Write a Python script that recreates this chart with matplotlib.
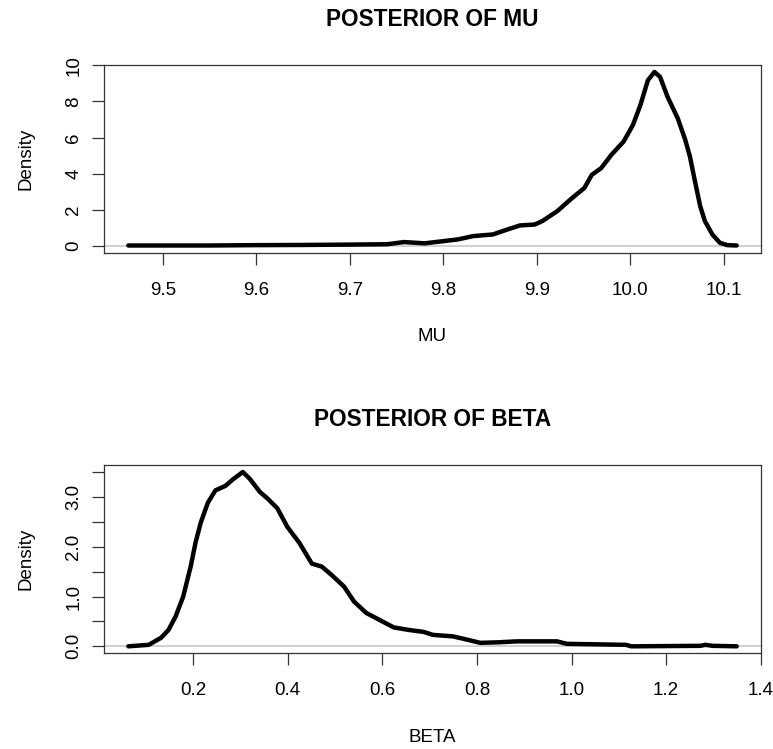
import matplotlib
matplotlib.use("Agg")
import matplotlib.pyplot as plt

plt.rcParams['font.family'] = ['Liberation Sans', 'DejaVu Sans']

# Posterior of MU (density curve points)
mu_x = [9.463, 9.55, 9.60, 9.65, 9.70, 9.74, 9.758, 9.78, 9.80, 9.816, 9.832, 9.853,
        9.869, 9.882, 9.898, 9.906, 9.922, 9.938, 9.951, 9.959, 9.969, 9.980,
        9.993, 10.003, 10.011, 10.019, 10.026, 10.032, 10.040, 10.051, 10.059,
        10.064, 10.069, 10.075, 10.080, 10.088, 10.096, 10.104, 10.114]
mu_y = [0.03, 0.03, 0.05, 0.06, 0.08, 0.10, 0.22, 0.15, 0.27, 0.37, 0.55, 0.64,
        0.92, 1.14, 1.19, 1.38, 1.93, 2.66, 3.21, 3.94, 4.31, 5.05,
        5.78, 6.70, 7.80, 9.17, 9.63, 9.36, 8.26, 7.06, 5.87,
        4.95, 3.67, 2.20, 1.38, 0.64, 0.18, 0.05, 0.03]

# Posterior of BETA
beta_x = [0.063, 0.106, 0.132, 0.148, 0.163, 0.179, 0.195, 0.205, 0.216, 0.231,
          0.247, 0.268, 0.284, 0.305, 0.320, 0.341, 0.357, 0.378, 0.399, 0.425,
          0.451, 0.472, 0.493, 0.519, 0.540, 0.566, 0.592, 0.624, 0.655, 0.687,
          0.707, 0.749, 0.781, 0.807, 0.843, 0.885, 0.969, 0.990, 1.115, 1.126,
          1.272, 1.283, 1.298, 1.349]
beta_y = [0.0, 0.03, 0.17, 0.33, 0.60, 1.00, 1.61, 2.08, 2.48, 2.88,
          3.13, 3.22, 3.35, 3.50, 3.36, 3.10, 2.97, 2.77, 2.40, 2.07,
          1.66, 1.60, 1.43, 1.20, 0.90, 0.67, 0.54, 0.38, 0.33, 0.29,
          0.23, 0.20, 0.13, 0.07, 0.08, 0.10, 0.10, 0.05, 0.03, 0.0,
          0.01, 0.03, 0.01, 0.0]

mu_xticks = [9.5, 9.6, 9.7, 9.8, 9.9, 10.0, 10.1]
mu_xticklabels = ['9.5', '9.6', '9.7', '9.8', '9.9', '10.0', '10.1']
mu_yticks = [0, 2, 4, 6, 8, 10]
mu_yticklabels = ['0', '2', '4', '6', '8', '10']
beta_xticks = [0.2, 0.4, 0.6, 0.8, 1.0, 1.2, 1.4]
beta_xticklabels = ['0.2', '0.4', '0.6', '0.8', '1.0', '1.2', '1.4']
beta_yticks = [0.0, 0.5, 1.0, 1.5, 2.0, 2.5, 3.0, 3.5]
beta_yticklabels = ['0.0', '', '1.0', '', '2.0', '', '3.0', '']

W, H = 773, 749
fig = plt.figure(figsize=(W / 100, H / 100), dpi=100)
L, R = 104, 761
ax1 = fig.add_axes([L / W, 1 - 253 / H, (R - L) / W, (253 - 65) / H])
ax2 = fig.add_axes([L / W, 1 - 653.3 / H, (R - L) / W, (653.3 - 465) / H])


def style(ax, title, xlabel, xticks, xtl, yticks, ytl):
    ax.axhline(0, color='#c8c8c8', lw=1.2, zorder=1)
    ax.margins(x=0.04, y=0.04)
    ax.set_xticks(xticks)
    ax.set_xticklabels(xtl)
    ax.set_yticks(yticks)
    ax.set_yticklabels(ytl, rotation=90, va='center')
    ax.tick_params(axis='both', direction='out', length=8.6, width=0.9,
                   labelsize=13.5, color='#333333')
    ax.tick_params(axis='x', pad=12)
    ax.tick_params(axis='y', pad=7)
    for s in ax.spines.values():
        s.set_linewidth(0.9)
        s.set_color('#333333')
    ax.set_xlabel(xlabel, fontsize=13.5, va='center', ha='center')
    ax.xaxis.set_label_coords(0.5, -0.446)
    ax.set_ylabel('Density', fontsize=13.5, va='center', ha='center')
    ax.yaxis.set_label_coords(-0.119, 0.5)
    ax.text(0.5, 1.24, title, transform=ax.transAxes, ha='center',
            va='center', fontsize=16.3, fontweight='bold')


ax1.plot(mu_x, mu_y, color='black', lw=3.2, zorder=3,
         solid_joinstyle='round', solid_capstyle='round')
style(ax1, 'POSTERIOR OF MU', 'MU', mu_xticks, mu_xticklabels,
      mu_yticks, mu_yticklabels)

ax2.plot(beta_x, beta_y, color='black', lw=3.2, zorder=3,
         solid_joinstyle='round', solid_capstyle='round')
style(ax2, 'POSTERIOR OF BETA', 'BETA', beta_xticks, beta_xticklabels,
      beta_yticks, beta_yticklabels)

fig.savefig('out.png', dpi=100)
